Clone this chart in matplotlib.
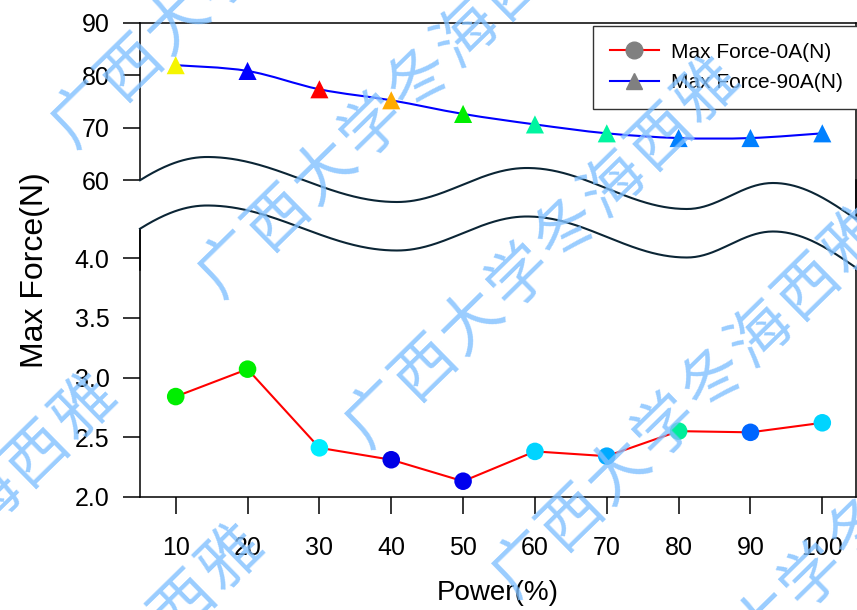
import numpy as np
import matplotlib
matplotlib.use("Agg")
import matplotlib.pyplot as plt
from matplotlib.lines import Line2D
from matplotlib.patches import Polygon, PathPatch
from matplotlib.path import Path

plt.rcParams["font.family"] = ["Liberation Sans", "DejaVu Sans"]

power = [10, 20, 30, 40, 50, 60, 70, 80, 90, 100]
force_0a = [2.84, 3.07, 2.41, 2.31, 2.13, 2.38, 2.34, 2.55, 2.54, 2.62]
force_90a = [81.9, 80.8, 77.3, 75.2, 72.6, 70.6, 68.9, 68.0, 68.0, 68.9]
colors_0a = ["#00ee00", "#00ee00", "#00eeff", "#0000e6", "#0000ee",
             "#00d4ff", "#00aaff", "#00ee99", "#0066ff", "#00d4ff"]
colors_90a = ["#f5f500", "#0000ff", "#ff0000", "#ffaa00", "#00ee00",
              "#00f5a0", "#00f5a0", "#0080ff", "#0080ff", "#0080ff"]
top_ticks = [60, 70, 80, 90]
bot_ticks = [2.0, 2.5, 3.0, 3.5, 4.0]
labels = ["Max Force-0A(N)", "Max Force-90A(N)"]
mark_text = "广西大学冬海西雅"

W, H = 857, 610
fig = plt.figure(figsize=(W / 100, H / 100), dpi=100)


def box(left, top, right, bottom):
    return [left / W, 1 - bottom / H, (right - left) / W, (bottom - top) / H]


# two panels that overlap around the break
ax_top = fig.add_axes(box(140, 22.7, 855.5, 270))
ax_bot = fig.add_axes(box(140, 180, 855.5, 496.7))

top_scale = (180 - 22.7) / 30
ax_top.set_ylim(60 - (270 - 180) / top_scale, 90)
ax_bot.set_ylim(2.0, 2.0 + (496.7 - 180) / 119.2)
for ax in (ax_top, ax_bot):
    ax.set_xlim(5.03, 104.62)
    ax.patch.set_visible(False)
    for s in ax.spines.values():
        s.set_linewidth(1.1)
    ax.tick_params(direction="out", length=12, width=1.1, labelsize=18, pad=10)
ax_top.spines["bottom"].set_visible(False)
ax_bot.spines["top"].set_visible(False)
ax_top.tick_params(axis="x", bottom=False, labelbottom=False)
ax_bot.tick_params(axis="x", pad=16)
ax_top.set_yticks(top_ticks)
ax_top.set_yticklabels([str(t) for t in top_ticks])
ax_bot.set_yticks(bot_ticks)
ax_bot.set_yticklabels([f"{t:.1f}" for t in bot_ticks])
ax_bot.set_xticks(power)

# 0A: straight red line with coloured dots
ax_bot.plot(power, force_0a, color="red", lw=1.5, zorder=2)
ax_bot.scatter(power, force_0a, s=160, c=colors_0a, zorder=3, linewidths=0)

# 90A: smooth blue curve (Catmull-Rom as cubic Bezier)
pts = np.column_stack([power, force_90a]).astype(float)
ext = np.vstack([pts[0], pts, pts[-1]])
verts, codes = [pts[0]], [Path.MOVETO]
for i in range(1, len(ext) - 2):
    p0, p1, p2, p3 = ext[i - 1], ext[i], ext[i + 1], ext[i + 2]
    verts += [p1 + (p2 - p0) / 6, p2 - (p3 - p1) / 6, p2]
    codes += [Path.CURVE4] * 3
ax_top.add_patch(PathPatch(Path(verts, codes), fill=False, edgecolor="blue",
                           lw=1.5, zorder=2))
ax_top.scatter(power, force_90a, s=170, c=colors_90a, marker="^", zorder=3,
               linewidths=0)

handles = [
    Line2D([], [], color="red", lw=1.5, marker="o", ms=12, mfc="grey", mec="grey"),
    Line2D([], [], color="blue", lw=1.5, marker="^", ms=12, mfc="grey", mec="grey"),
]
leg = ax_top.legend(handles, labels, loc="upper left",
                    bbox_to_anchor=(593 / W, 1 - 26 / H),
                    bbox_transform=fig.transFigure, borderaxespad=0,
                    fancybox=False, framealpha=1, edgecolor="#333333",
                    fontsize=15, handlelength=2.35, labelspacing=0.55,
                    handletextpad=0.6, borderpad=0.8)
leg.get_frame().set_linewidth(1.0)

fig.text(35 / W, 1 - 270 / H, "Max Force(N)", rotation=90, ha="center",
         va="center", fontsize=23)
fig.text(498 / W, 1 - 593 / H, "Power(%)", ha="center", va="center",
         fontsize=20)


# wavy break between the panels (pixel layout)
def wave(x):
    ex = [(17, 241), (207, 157), (397, 202), (527, 168), (687, 209),
          (773, 183), (940, 256)]
    y = np.empty_like(x)
    for (x0, y0), (x1, y1) in zip(ex[:-1], ex[1:]):
        m = (x >= x0) & (x <= x1)
        t = (x[m] - x0) / (x1 - x0)
        y[m] = y0 + (y1 - y0) * (1 - np.cos(np.pi * t)) / 2
    return y


xs = np.linspace(137, 857, 500)
yu = wave(xs)
yl = yu + 48.5
band = np.vstack([np.column_stack([xs, yu]), np.column_stack([xs[::-1], yl[::-1]])])
band[:, 0] /= W
band[:, 1] = 1 - band[:, 1] / H
fig.add_artist(Polygon(band, closed=True, facecolor="white", edgecolor="none",
                       transform=fig.transFigure, zorder=1))
xw = np.linspace(140, 856, 500)
for off in (0, 48.5):
    fig.add_artist(Line2D(xw / W, 1 - (wave(xw) + off) / H, color="#0b2535",
                          lw=1.5, transform=fig.transFigure, zorder=2))

# diagonal watermark rows
ang = np.deg2rad(44.4)
u_dir = np.array([np.cos(ang), -np.sin(ang)])
v_dir = np.array([np.sin(ang), np.cos(ang)])
for v in (140, 350, 560, 770, 980):
    for u0 in (-20, -687):
        for i, ch in enumerate(mark_text):
            cx, cy = (u0 + 66 * i) * u_dir + v * v_dir
            if -60 < cx < W + 60 and -60 < cy < H + 60:
                fig.text(cx / W, 1 - cy / H, ch, rotation=44.4, ha="center",
                         va="center", rotation_mode="anchor", fontsize=45,
                         family="Noto Sans CJK SC", color="#80c0ff", alpha=0.8,
                         zorder=10)

fig.savefig("out.png", dpi=100)
